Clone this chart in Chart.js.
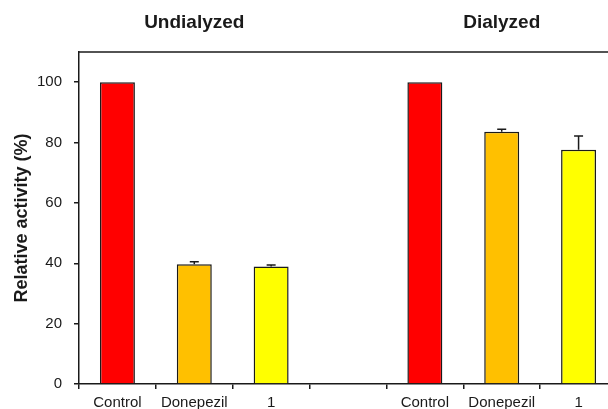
<!DOCTYPE html>
<html>
<head>
<meta charset="utf-8">
<script src="https://cdn.jsdelivr.net/npm/chart.js@4"></script>
<style>
  html, body { margin: 0; padding: 0; background: #fff; overflow: hidden; }
  #wrap { width: 640px; height: 409px; position: relative; }
</style>
</head>
<body>
<div id="wrap"><canvas id="activityChart"></canvas></div>
<script>
// data
const categories = ['Control', 'Donepezil', '1', '', 'Control', 'Donepezil', '1'];
const activity = [100, 39.7, 38.9, null, 100, 83.6, 77.6];
const activityErr = [0, 0.8, 0.5, 0, 0, 0.8, 4.6];
const barColors = ['#ff0000', '#ffc000', '#ffff00', '#ffffff', '#ff0000', '#ffc000', '#ffff00'];
const groupTitles = ['Undialyzed', 'Dialyzed'];
const groupCenterIdx = [1, 5];
const yTicks = [0, 20, 40, 60, 80, 100];

const ink = '#1a1a1a';
const fontFam = '"Liberation Sans", Arial, sans-serif';

// error bars + group titles + top frame line
const extras = {
  id: 'extras',
  afterDatasetsDraw(chart) {
    const ctx = chart.ctx;
    const y = chart.scales.y;
    const x = chart.scales.x;
    const meta = chart.getDatasetMeta(0);
    ctx.save();
    ctx.strokeStyle = ink;
    ctx.lineWidth = 1.5;
    activity.forEach((v, i) => {
      if (v == null || !activityErr[i]) return;
      const bx = meta.data[i].x;
      const y0 = y.getPixelForValue(v);
      const y1 = y.getPixelForValue(v + activityErr[i]);
      ctx.beginPath();
      ctx.moveTo(bx, y0);
      ctx.lineTo(bx, y1);
      ctx.moveTo(bx - 4.5, y1);
      ctx.lineTo(bx + 4.5, y1);
      ctx.stroke();
    });
    // top frame
    const a = chart.chartArea;
    ctx.beginPath();
    ctx.moveTo(a.left, a.top);
    ctx.lineTo(a.right, a.top);
    ctx.stroke();
    // group titles
    ctx.fillStyle = ink;
    ctx.font = 'bold 19px ' + fontFam;
    ctx.textAlign = 'center';
    ctx.textBaseline = 'middle';
    groupTitles.forEach((t, k) => {
      ctx.fillText(t, x.getPixelForValue(groupCenterIdx[k]), 23);
    });
    ctx.restore();
  }
};

new Chart(document.getElementById('activityChart'), {
  type: 'bar',
  data: {
    labels: categories,
    datasets: [{
      data: activity,
      backgroundColor: barColors,
      borderColor: ink,
      borderWidth: 1.5,
      categoryPercentage: 1,
      barPercentage: 0.455
    }]
  },
  options: {
    responsive: true,
    maintainAspectRatio: false,
    animation: false,
    layout: { padding: { top: 52, right: 23, left: 0, bottom: 0 } },
    plugins: {
      legend: { display: false },
      tooltip: { enabled: false }
    },
    scales: {
      x: {
        grid: {
          offset: true,
          drawOnChartArea: false,
          drawTicks: true,
          tickLength: 5,
          color: ink,
          lineWidth: 1.5
        },
        border: { color: ink, width: 1.5 },
        ticks: {
          color: ink,
          padding: 5,
          font: { family: fontFam, size: 15 },
          maxRotation: 0,
          autoSkip: false
        },
        afterFit: axis => { axis.height = 25; }
      },
      y: {
        min: 0,
        max: 110,
        afterBuildTicks: axis => {
          axis.ticks = yTicks.map(v => ({ value: v }));
        },
        grid: {
          drawOnChartArea: false,
          drawTicks: true,
          tickLength: 5,
          color: ink,
          lineWidth: 1.5
        },
        border: { color: ink, width: 1.5 },
        ticks: {
          color: ink,
          padding: 12,
          font: { family: fontFam, size: 15 }
        },
        title: {
          display: true,
          text: 'Relative activity (%)',
          color: ink,
          font: { family: fontFam, size: 18, weight: 'bold' },
          padding: { top: 11, bottom: 0 }
        },
        afterFit: axis => { axis.width = 79; }
      }
    }
  },
  plugins: [extras]
});
</script>
</body>
</html>
